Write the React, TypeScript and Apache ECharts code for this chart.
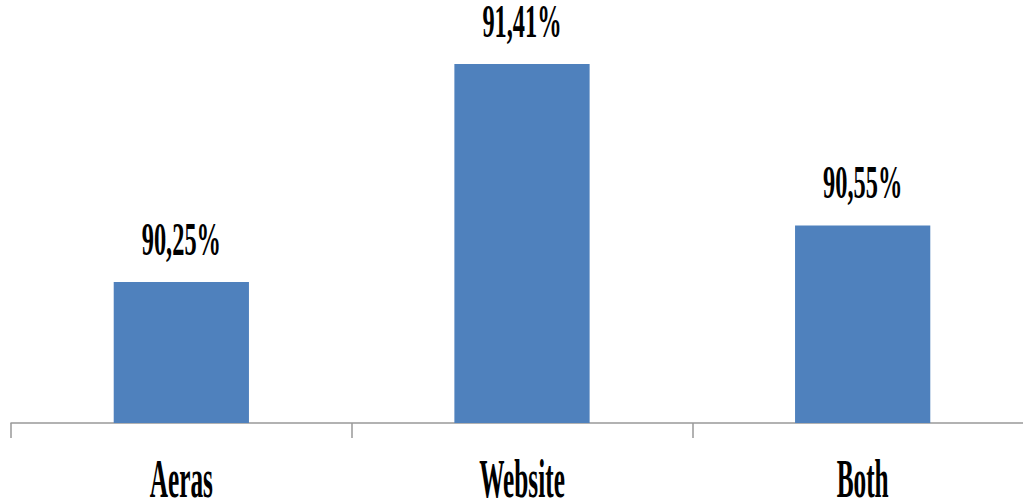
import React, { useEffect, useRef } from "react";
import * as echarts from "echarts";

const categories = ["Aeras", "Website", "Both"];
const values = [90.25, 91.41, 90.55];
const valueLabels = ["90,25%", "91,41%", "90,55%"];
const yMin = 89.5;
const yMax = 91.5;

const FONT = "'Liberation Serif', serif";

export default function App() {
  const ref = useRef<HTMLDivElement>(null);
  useEffect(() => {
    if (!ref.current) return;
    const chart = echarts.init(ref.current, null, { renderer: "svg" });
    chart.setOption({
      animation: false,
      grid: { left: 11, width: 1022, top: 47, bottom: 81, outerBoundsMode: "none", containLabel: false },
      xAxis: {
        type: "category",
        data: categories,
        boundaryGap: true,
        axisLine: { show: true, lineStyle: { color: "#999999", width: 1.5 } },
        axisTick: { show: true, length: 15, lineStyle: { color: "#999999", width: 1.5 } },
        axisLabel: { show: false },
      },
      yAxis: {
        type: "value",
        min: yMin,
        max: yMax,
        show: false,
        splitLine: { show: false },
      },
      series: [
        {
          type: "bar",
          data: values,
          barWidth: "39.7%",
          itemStyle: { color: "#4F81BD" },
        },
        {
          type: "custom",
          clip: false,
          data: values.map((v, i) => [i, v]),
          encode: { x: 0, y: 1 },
          renderItem: (params: any, api: any) => {
            const i = api.value(0);
            const p = api.coord([i, api.value(1)]);
            return {
              type: "text",
              x: p[0],
              y: p[1] - 43,
              scaleX: 0.53,
              style: {
                text: valueLabels[i],
                fontFamily: FONT,
                fontSize: 46,
                fontWeight: "bold",
                fill: "#000000",
                align: "center",
                verticalAlign: "middle",
              },
            };
          },
        },
        {
          type: "custom",
          clip: false,
          data: categories.map((c, i) => [i, yMin]),
          encode: { x: 0, y: 1 },
          renderItem: (params: any, api: any) => {
            const i = api.value(0);
            const p = api.coord([i, yMin]);
            return {
              type: "text",
              x: p[0],
              y: p[1] + 55,
              scaleX: 0.46,
              style: {
                text: categories[i],
                fontFamily: FONT,
                fontSize: 55,
                fontWeight: "bold",
                fill: "#000000",
                align: "center",
                verticalAlign: "middle",
              },
            };
          },
        },
      ],
    });
    return () => chart.dispose();
  }, []);
  return <div ref={ref} style={{ width: 1023, height: 504, position: "absolute", left: 0, top: 0 }} />;
}
